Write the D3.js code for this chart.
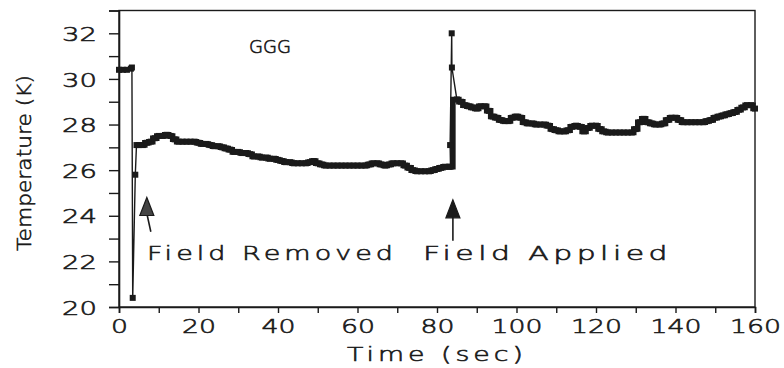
<!DOCTYPE html>
<html>
<head>
<meta charset="utf-8">
<script src="https://cdn.jsdelivr.net/npm/d3@7"></script>
<style>
  html, body { margin: 0; padding: 0; background: #fff; }
  svg { display: block; }
  text { font-family: "DejaVu Sans", sans-serif; font-weight: 200; fill: #1a1a1a; stroke: #1a1a1a; stroke-width: 0.6px; }
</style>
</head>
<body>
<svg id="chart" width="784" height="368"></svg>
<script>
// ---- data ----
const timeSec = [0,1,2,3,3.25,3.45,4.1,4.4,5,6,7,8,9,10,11,12,13,14,15,16,17,18,19,20,21,22,23,24,25,26,27,28,29,30,31,32,33,34,35,36,37,38,39,40,41,42,43,44,45,46,47,48,49,50,51,52,53,54,55,56,57,58,59,60,61,62,63,64,65,66,67,68,69,70,71,72,73,74,75,76,77,78,79,80,81,82,83,83.4,83.3,83.7,83.75,85,86,87,88,89,90,91,92,93,94,95,96,97,98,99,100,101,102,103,104,105,106,107,108,109,110,111,112,113,114,115,116,117,118,119,120,121,122,123,124,125,126,127,128,129,130,131,132,133,134,135,136,137,138,139,140,141,142,143,144,145,146,147,148,149,150,151,152,153,154,155,156,157,158,159,160];
const tempK = [30.4,30.4,30.4,30.45,30.5,20.4,25.8,27.1,27.1,27.1,27.2,27.25,27.4,27.5,27.5,27.55,27.5,27.35,27.25,27.25,27.25,27.25,27.25,27.2,27.15,27.15,27.1,27.05,27.05,27.0,26.95,26.9,26.8,26.8,26.75,26.75,26.7,26.6,26.6,26.55,26.55,26.5,26.5,26.45,26.4,26.35,26.35,26.3,26.3,26.3,26.3,26.35,26.4,26.3,26.25,26.2,26.2,26.2,26.2,26.2,26.2,26.2,26.2,26.2,26.2,26.2,26.25,26.3,26.3,26.25,26.2,26.25,26.3,26.3,26.3,26.2,26.1,26.0,25.95,25.95,25.95,25.95,26.0,26.05,26.1,26.15,26.15,26.15,27.1,32.0,30.5,29.1,29.0,28.85,28.8,28.75,28.7,28.8,28.8,28.6,28.35,28.3,28.2,28.15,28.15,28.3,28.35,28.3,28.1,28.05,28.05,28.0,28.0,28.0,27.95,27.8,27.75,27.7,27.7,27.75,27.9,27.95,27.9,27.7,27.85,27.95,27.95,27.8,27.7,27.65,27.65,27.65,27.65,27.65,27.65,27.65,27.8,28.1,28.25,28.1,28.05,28.0,28.0,28.05,28.2,28.3,28.3,28.2,28.1,28.1,28.1,28.1,28.1,28.1,28.15,28.2,28.3,28.35,28.4,28.45,28.5,28.55,28.65,28.75,28.85,28.85,28.7];
const xTicks = [0,20,40,60,80,100,120,140,160];
const yTicks = [20,22,24,26,28,30,32];
const seriesLabel = "GGG";
const annotations = [
  {text: "Field Removed", t: 7, tip: 24.8, base: 23.3},
  {text: "Field Applied", t: 84, tip: 24.7, base: 22.9}
];

const svg = d3.select("#chart");
const x = d3.scaleLinear().domain([0, 160]).range([119, 755]);
const y = d3.scaleLinear().domain([20, 33]).range([307, 10.5]);

const ink = "#1a1a1a";

// frame
svg.append("rect").attr("x", x(0)).attr("y", y(33))
  .attr("width", x(160) - x(0)).attr("height", y(20) - y(33))
  .attr("fill", "none").attr("stroke", ink).attr("stroke-width", 1.4);

// y axis
const yAxis = d3.axisLeft(y).tickValues(d3.range(20, 34, 1)).tickSize(10)
  .tickFormat(d => yTicks.includes(d) ? d : "").tickPadding(12);
const gy = svg.append("g").attr("transform", `translate(${x(0)},0)`).call(yAxis);
gy.select(".domain").attr("stroke", ink).attr("stroke-width", 1.6);
gy.selectAll(".tick line").attr("stroke", ink).attr("stroke-width", 1.4);
gy.selectAll(".tick text").attr("font-size", 20).attr("fill", ink)
  .attr("font-family", "DejaVu Sans").attr("font-weight", 200)
  .attr("dy", "0.36em")
  .attr("textLength", d => String(d).length * 17.5)
  .attr("lengthAdjust", "spacingAndGlyphs");

// x axis
const xAxis = d3.axisBottom(x).tickValues(d3.range(0, 161, 10)).tickSize(6)
  .tickFormat(d => xTicks.includes(d) ? d : "").tickPadding(6);
const gx = svg.append("g").attr("transform", `translate(0,${y(20)})`).call(xAxis);
gx.select(".domain").attr("stroke", ink).attr("stroke-width", 1.6);
gx.selectAll(".tick line").attr("stroke", ink).attr("stroke-width", 1.4);
gx.selectAll(".tick text").attr("font-size", 20).attr("fill", ink)
  .attr("font-family", "DejaVu Sans").attr("font-weight", 200)
  .attr("textLength", d => String(d).length * 17)
  .attr("lengthAdjust", "spacingAndGlyphs");

// axis titles
svg.append("text").attr("x", 437).attr("y", 361).attr("text-anchor", "middle")
  .attr("font-size", 20).attr("letter-spacing", 3)
  .attr("textLength", 180).attr("lengthAdjust", "spacingAndGlyphs")
  .text("Time (sec)");
svg.append("text").attr("transform", "translate(31,163) rotate(-90)")
  .attr("text-anchor", "middle").attr("font-size", 20)
  .attr("textLength", 176).attr("lengthAdjust", "spacingAndGlyphs")
  .text("Temperature (K)");

// series label
svg.append("text").attr("x", 249).attr("y", 53).attr("font-size", 17)
  .attr("textLength", 42).attr("lengthAdjust", "spacingAndGlyphs").text(seriesLabel);

// data
const pts = timeSec.map((t, i) => ({t, v: tempK[i]}));
const line = d3.line().x(d => x(d.t)).y(d => y(d.v));
svg.append("path").datum(pts).attr("d", line)
  .attr("fill", "none").attr("stroke", ink).attr("stroke-width", 1.4);
svg.append("path").datum(pts.filter(d => d.t >= 4.4 && d.t < 83.3 || d.t >= 85))
  .attr("d", d3.line().x(d => x(d.t)).y(d => y(d.v)).curve(d3.curveStep))
  .attr("fill", "none").attr("stroke", ink).attr("stroke-width", 5.5);
svg.selectAll("rect.pt").data(pts).join("rect").attr("class", "pt")
  .attr("x", d => x(d.t) - 3).attr("y", d => y(d.v) - 3)
  .attr("width", 6).attr("height", 6).attr("fill", ink);

// annotations
const textY = 260;
const annX = [147, 423], annLen = [250, 249];
annotations.forEach((a, i) => {
  svg.append("text").attr("x", annX[i]).attr("y", textY).attr("font-size", 20)
    .attr("letter-spacing", 3)
    .attr("textLength", annLen[i]).attr("lengthAdjust", "spacingAndGlyphs").text(a.text);
  const tx = x(a.t), ty = y(a.tip), by = y(a.base);
  const slant = i === 0 ? 4 : 0;
  svg.append("line").attr("x1", tx + slant).attr("y1", by).attr("x2", tx).attr("y2", ty + 16)
    .attr("stroke", ink).attr("stroke-width", 1.6);
  svg.append("path")
    .attr("d", `M${tx},${ty} L${tx - 7},${ty + 18} L${tx + 7},${ty + 18} Z`)
    .attr("fill", i === 0 ? "#444" : ink).attr("stroke", ink).attr("stroke-width", 1.2);
});
</script>
</body>
</html>
